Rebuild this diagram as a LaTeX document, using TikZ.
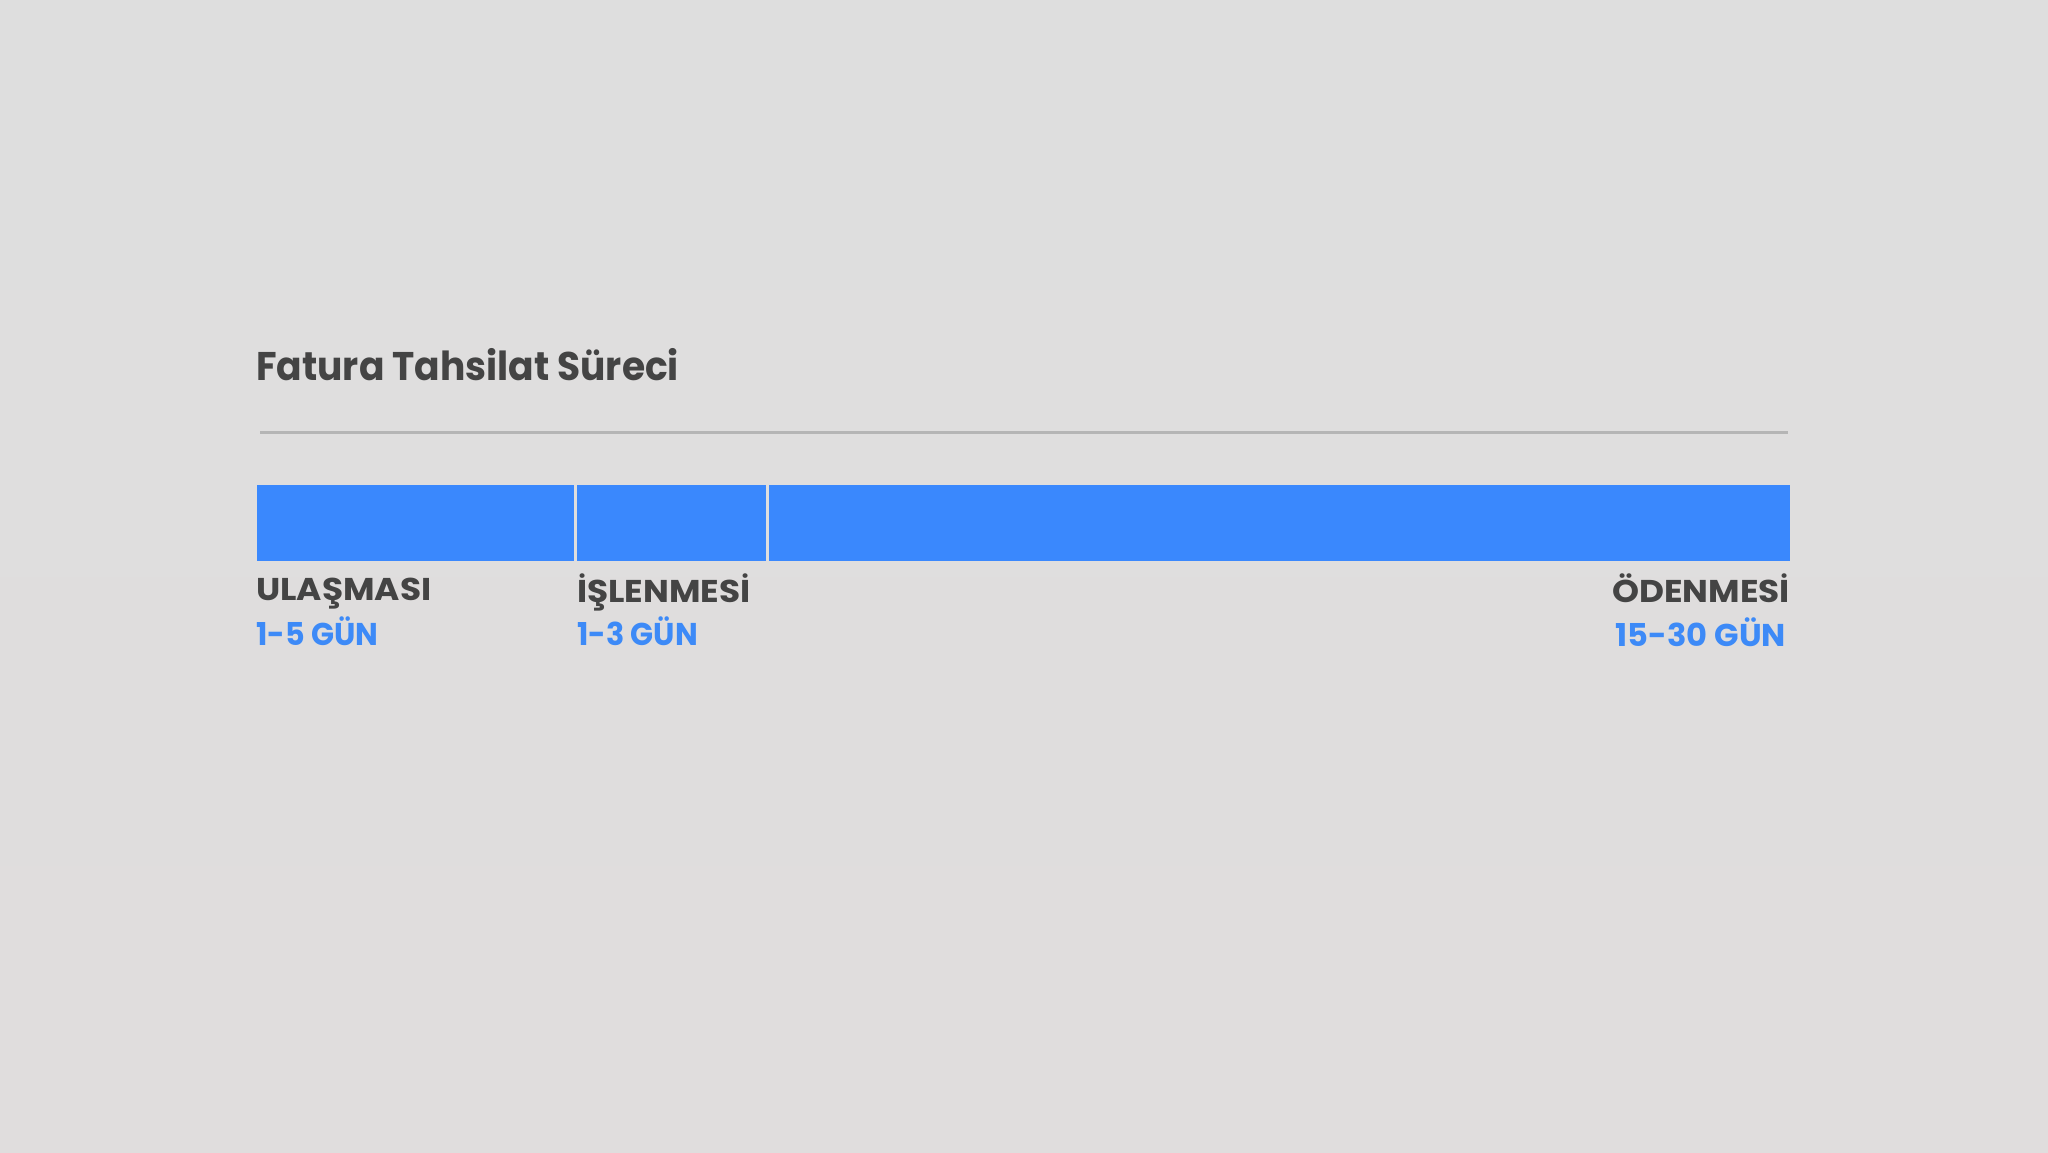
\documentclass[tikz,border=0pt]{standalone}
\usepackage{fontspec}
\setmainfont{Poppins}
\definecolor{bg}{HTML}{DEDEDE}
\definecolor{bgb}{HTML}{E0DDDD}
\definecolor{barblue}{HTML}{3A88FD}
\definecolor{txtblue}{HTML}{3D8AF7}
\definecolor{txtdark}{HTML}{444444}
\definecolor{rule}{HTML}{B5B5B5}
\newcommand{\lblx}[1]{\scalebox{1.09}[1]{#1}}
\newcommand{\titlex}[1]{\scalebox{0.94}[1]{#1}}
\tikzset{
  seg/.style={fill=barblue, draw=none},
  lbl/.style={anchor=base west, inner sep=0pt, text=txtdark, font=\fontsize{31.5}{31.5}\selectfont\bfseries},
  val/.style={anchor=base west, inner sep=0pt, text=txtblue, font=\fontsize{31.5}{31.5}\selectfont\bfseries},
}
\begin{document}
\begin{tikzpicture}[x=1pt,y=-1pt]
\shade[top color=bg, bottom color=bgb] (0,0) rectangle (2048,1152);
\useasboundingbox (0,0) rectangle (2048,1152);
\node[anchor=base west, inner sep=0pt, text=txtdark, font=\fontsize{40}{40}\selectfont\bfseries] (title) at (256,380) {\titlex{Fatura Tahsilat Süreci}};
\draw[rule, line width=3pt] (260,432.5) -- (1788,432.5);
\fill[seg] (257,485) rectangle (574,561);
\fill[seg] (577,485) rectangle (766,561);
\fill[seg] (769,485) rectangle (1790,561);
\node[lbl] (l1) at (256,600) {\lblx{ULAŞMASI}};
\node[val] (v1) at (256,645) {\scalebox{0.96}[1]{1-5 GÜN}};
\node[lbl] (l2) at (577,602) {\lblx{İŞLENMESİ}};
\node[val] (v2) at (577,645) {\scalebox{0.96}[1]{1-3 GÜN}};
\node[lbl, anchor=base east] (l3) at (1790,602) {\lblx{ÖDENMESİ}};
\node[val, anchor=base east] (v3) at (1786,646) {\scalebox{1.02}[1]{15-30 GÜN}};
\end{tikzpicture}
\end{document}
